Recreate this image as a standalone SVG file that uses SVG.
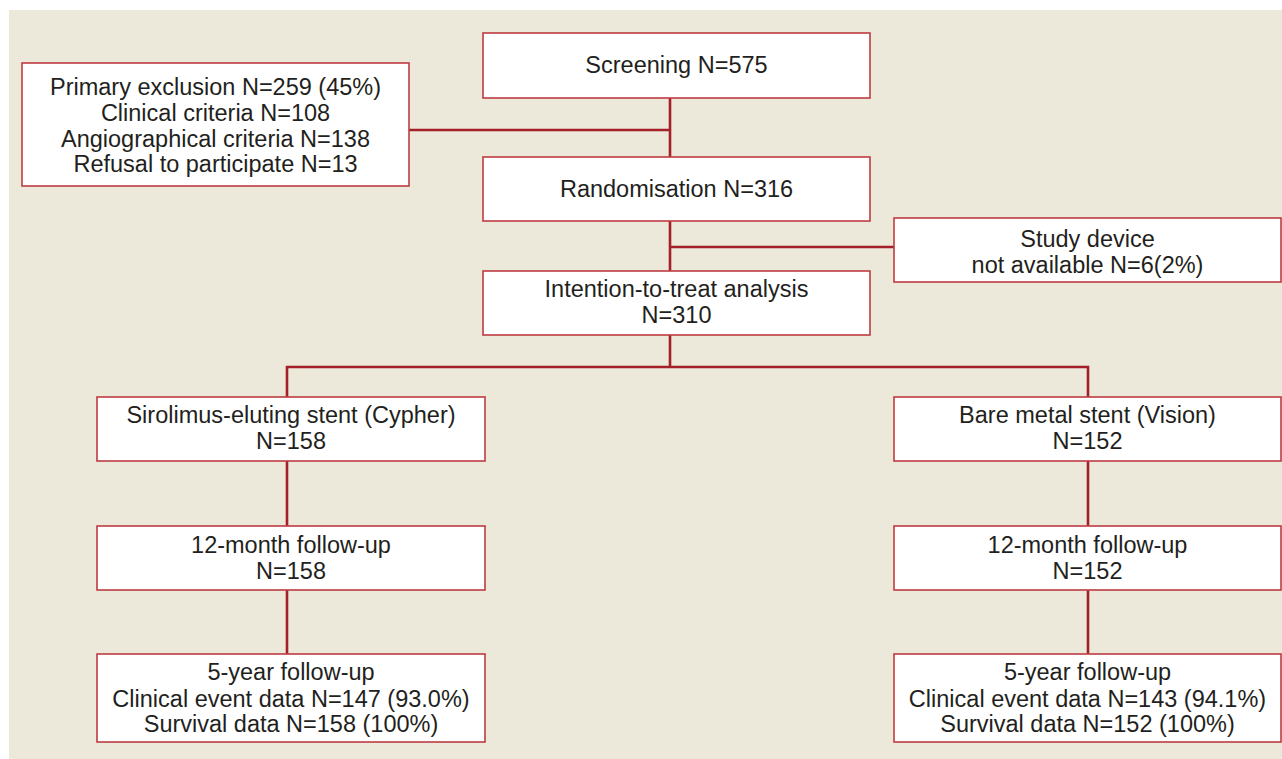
<svg xmlns="http://www.w3.org/2000/svg" width="1282" height="759" viewBox="0 0 1282 759">
<style>
.box{fill:#ffffff;stroke:#bf3b41;stroke-width:1.6}
.t{font-family:"Liberation Sans",Arial,sans-serif;font-size:23.5px;fill:#231f20;text-anchor:middle}
.c{fill:none;stroke:#a51f28;stroke-width:2.6}
</style>
<rect x="0" y="0" width="1282" height="759" fill="#ffffff"/>
<rect x="9" y="10" width="1273" height="749" fill="#ece9da"/>
<g id="connectors">
<path class="c" d="M670,98 V157"/>
<path class="c" d="M409,130 H670"/>
<path class="c" d="M670,221 V271"/>
<path class="c" d="M670,247 H894"/>
<path class="c" d="M670,335 V367"/>
<path class="c" d="M287,397 V367 H1088 V397"/>
<path class="c" d="M287,461 V526"/>
<path class="c" d="M287,590 V654"/>
<path class="c" d="M1088,461 V526"/>
<path class="c" d="M1088,590 V654"/>
</g>
<g id="screening">
<rect class="box" x="483" y="33" width="387" height="65"/>
<text class="t" x="676.5" y="73">Screening N=575</text>
</g>
<g id="exclusion">
<rect class="box" x="22" y="63" width="387" height="123"/>
<text class="t" x="215.5" y="95">Primary exclusion N=259 (45%)</text>
<text class="t" x="215.5" y="121">Clinical criteria N=108</text>
<text class="t" x="215.5" y="147">Angiographical criteria N=138</text>
<text class="t" x="215.5" y="172">Refusal to participate N=13</text>
</g>
<g id="randomisation">
<rect class="box" x="483" y="157" width="387" height="64"/>
<text class="t" x="676.5" y="197">Randomisation N=316</text>
</g>
<g id="device">
<rect class="box" x="894" y="218" width="387" height="64"/>
<text class="t" x="1087.5" y="247">Study device</text>
<text class="t" x="1087.5" y="273">not available N=6(2%)</text>
</g>
<g id="itt">
<rect class="box" x="483" y="271" width="387" height="64"/>
<text class="t" x="676.5" y="297">Intention-to-treat analysis</text>
<text class="t" x="676.5" y="323">N=310</text>
</g>
<g id="ses">
<rect class="box" x="97" y="397" width="388" height="64"/>
<text class="t" x="291" y="423">Sirolimus-eluting stent (Cypher)</text>
<text class="t" x="291" y="449">N=158</text>
</g>
<g id="bms">
<rect class="box" x="894" y="397" width="387" height="64"/>
<text class="t" x="1087.5" y="423">Bare metal stent (Vision)</text>
<text class="t" x="1087.5" y="449">N=152</text>
</g>
<g id="ses12">
<rect class="box" x="97" y="526" width="388" height="64"/>
<text class="t" x="291" y="553">12-month follow-up</text>
<text class="t" x="291" y="579">N=158</text>
</g>
<g id="bms12">
<rect class="box" x="894" y="526" width="387" height="64"/>
<text class="t" x="1087.5" y="553">12-month follow-up</text>
<text class="t" x="1087.5" y="579">N=152</text>
</g>
<g id="ses5">
<rect class="box" x="97" y="654" width="388" height="88"/>
<text class="t" x="291" y="680">5-year follow-up</text>
<text class="t" x="291" y="707">Clinical event data N=147 (93.0%)</text>
<text class="t" x="291" y="732">Survival data N=158 (100%)</text>
</g>
<g id="bms5">
<rect class="box" x="894" y="654" width="387" height="88"/>
<text class="t" x="1087.5" y="680">5-year follow-up</text>
<text class="t" x="1087.5" y="707">Clinical event data N=143 (94.1%)</text>
<text class="t" x="1087.5" y="732">Survival data N=152 (100%)</text>
</g>
</svg>
